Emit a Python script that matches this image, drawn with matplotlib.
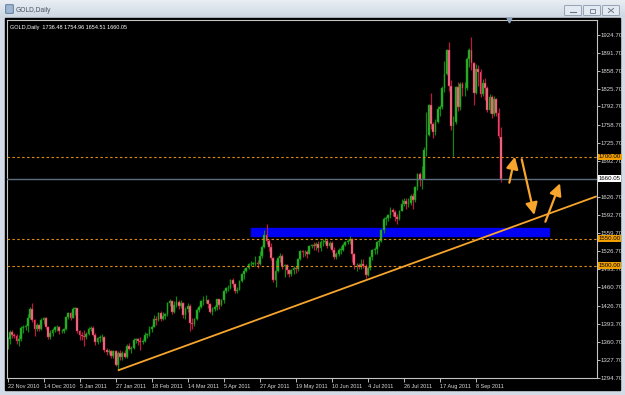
import matplotlib
matplotlib.use("Agg")
import matplotlib.pyplot as plt
from matplotlib.patches import Rectangle, FancyBboxPatch
import numpy as np

W, H = 625, 395

# daily OHLC, one bar per weekday, 22 Nov 2010 .. 23 Sep 2011
opens = [
    1352, 1366, 1378, 1374, 1372, 1362, 1366,
    1386, 1388, 1389, 1405, 1421, 1400, 1385, 1391, 1384, 1400, 1404, 1387, 1370, 1377, 1383, 1387, 1387, 1380, 1381, 1384, 1406, 1414, 1405,
    1421, 1422, 1380, 1374, 1371, 1369, 1375, 1384, 1386, 1373, 1361, 1367, 1369, 1370, 1345, 1342, 1344, 1334, 1343, 1318, 1340,
    1332, 1340, 1332, 1353, 1348, 1350, 1364, 1365, 1363, 1360, 1362, 1374, 1375, 1385, 1388, 1403, 1400, 1414, 1403, 1408,
    1411, 1432, 1436, 1416, 1428, 1434, 1426, 1432, 1410, 1420, 1427, 1396, 1393, 1403, 1419, 1425, 1435, 1437, 1437, 1430, 1416, 1421, 1424,
    1439, 1429, 1437, 1454, 1459, 1460, 1474, 1467, 1453, 1456, 1473, 1486, 1491, 1496, 1503, 1504, 1505, 1506, 1503, 1518, 1535,
    1556, 1545, 1534, 1515, 1475, 1491, 1514, 1518, 1500, 1501, 1492, 1486, 1492, 1496, 1494, 1512, 1527, 1525, 1526, 1522, 1536, 1539,
    1536, 1540, 1533, 1543, 1544, 1545, 1537, 1542, 1529, 1516, 1522, 1529, 1530, 1539, 1544, 1546, 1550, 1521, 1501, 1502, 1498, 1504,
    1500, 1484, 1496, 1516, 1529, 1531, 1543, 1546, 1565, 1587, 1588, 1593, 1602, 1599, 1589, 1586, 1601, 1614, 1620, 1614, 1615,
    1629, 1621, 1645, 1668, 1658, 1660, 1713, 1741, 1795, 1761, 1745, 1764, 1788, 1791, 1826, 1852, 1896, 1830, 1757, 1764, 1828, 1792, 1834,
    1826, 1827, 1879, 1896, 1872, 1818, 1862, 1856, 1816, 1836, 1826, 1787, 1811, 1779, 1806, 1780, 1736.48,
]
highs = [
    1370, 1383, 1382, 1377, 1375, 1373, 1389,
    1392, 1394, 1411, 1425, 1431, 1402, 1395, 1394, 1404, 1407, 1406, 1389, 1382, 1386, 1390, 1392, 1390, 1384, 1386, 1408, 1415, 1416, 1424,
    1424, 1423, 1383, 1378, 1382, 1378, 1388, 1390, 1389, 1376, 1369, 1373, 1375, 1371, 1350, 1348, 1345, 1346, 1345, 1344, 1345,
    1343, 1345, 1357, 1359, 1352, 1367, 1367, 1367, 1369, 1366, 1378, 1377, 1390, 1392, 1409, 1408, 1415, 1418, 1415, 1413,
    1434, 1440, 1438, 1435, 1444, 1437, 1438, 1434, 1424, 1431, 1430, 1404, 1405, 1423, 1428, 1437, 1444, 1447, 1439, 1432, 1425, 1428, 1440,
    1440, 1439, 1456, 1462, 1465, 1476, 1477, 1469, 1461, 1475, 1487, 1496, 1498, 1505, 1509, 1508, 1518, 1510, 1528, 1538, 1566,
    1577, 1549, 1542, 1517, 1510, 1517, 1523, 1522, 1504, 1503, 1495, 1495, 1499, 1499, 1514, 1530, 1529, 1530, 1530, 1538, 1541, 1543,
    1544, 1545, 1548, 1549, 1551, 1549, 1546, 1546, 1534, 1526, 1533, 1536, 1542, 1546, 1549, 1555, 1552, 1524, 1506, 1505, 1513, 1512,
    1503, 1499, 1518, 1531, 1534, 1545, 1550, 1568, 1590, 1592, 1595, 1609, 1606, 1602, 1595, 1603, 1623, 1625, 1624, 1624, 1632,
    1634, 1647, 1670, 1673, 1683, 1718, 1782, 1797, 1817, 1765, 1770, 1794, 1795, 1830, 1877, 1898, 1911, 1841, 1776, 1831, 1838, 1837, 1838,
    1838, 1884, 1900, 1921, 1875, 1870, 1869, 1861, 1843, 1845, 1830, 1815, 1813, 1812, 1809, 1790, 1754.96,
]
lows = [
    1347, 1356, 1368, 1368, 1356, 1352, 1363,
    1377, 1382, 1379, 1403, 1397, 1372, 1380, 1381, 1383, 1394, 1384, 1366, 1365, 1372, 1379, 1381, 1375, 1377, 1376, 1382, 1402, 1400, 1404,
    1410, 1377, 1364, 1364, 1353, 1365, 1373, 1380, 1371, 1355, 1357, 1360, 1363, 1342, 1336, 1338, 1330, 1330, 1316, 1308, 1328,
    1328, 1330, 1331, 1345, 1340, 1348, 1358, 1355, 1346, 1356, 1360, 1368, 1372, 1379, 1387, 1392, 1398, 1398, 1400, 1402,
    1408, 1426, 1411, 1414, 1424, 1420, 1423, 1405, 1403, 1415, 1381, 1385, 1390, 1400, 1415, 1423, 1428, 1432, 1423, 1413, 1410, 1418, 1419,
    1420, 1426, 1432, 1450, 1453, 1457, 1462, 1450, 1451, 1455, 1471, 1476, 1488, 1494, 1500, 1502, 1500, 1496, 1502, 1515, 1532,
    1540, 1527, 1510, 1470, 1462, 1488, 1507, 1495, 1479, 1486, 1480, 1482, 1486, 1487, 1490, 1510, 1516, 1518, 1515, 1521, 1533, 1530,
    1530, 1526, 1528, 1537, 1540, 1532, 1533, 1526, 1512, 1513, 1518, 1521, 1527, 1536, 1540, 1540, 1508, 1495, 1490, 1495, 1494, 1497,
    1478, 1482, 1493, 1510, 1521, 1522, 1537, 1544, 1561, 1576, 1582, 1588, 1592, 1582, 1577, 1585, 1600, 1610, 1604, 1609, 1611,
    1604, 1618, 1640, 1646, 1641, 1660, 1701, 1738, 1752, 1735, 1741, 1762, 1775, 1788, 1820, 1850, 1822, 1750, 1702, 1760, 1785, 1786, 1812,
    1812, 1823, 1866, 1859, 1795, 1815, 1830, 1810, 1812, 1804, 1782, 1780, 1772, 1776, 1775, 1735, 1654.51,
]
closes = [
    1366, 1378, 1374, 1372, 1362, 1366, 1386,
    1388, 1389, 1405, 1421, 1400, 1385, 1391, 1384, 1400, 1404, 1387, 1370, 1377, 1383, 1387, 1387, 1380, 1381, 1384, 1406, 1414, 1405, 1421,
    1422, 1380, 1374, 1371, 1369, 1375, 1384, 1386, 1373, 1361, 1367, 1369, 1370, 1345, 1342, 1344, 1334, 1343, 1318, 1340, 1332,
    1340, 1332, 1353, 1348, 1350, 1364, 1365, 1363, 1360, 1362, 1374, 1375, 1385, 1388, 1403, 1400, 1414, 1403, 1408, 1411,
    1432, 1436, 1416, 1428, 1434, 1426, 1432, 1410, 1420, 1427, 1396, 1393, 1403, 1419, 1425, 1435, 1437, 1438, 1430, 1416, 1421, 1424, 1439,
    1429, 1437, 1454, 1459, 1460, 1474, 1467, 1453, 1456, 1473, 1486, 1491, 1496, 1503, 1504, 1505, 1506, 1503, 1518, 1535, 1556,
    1545, 1534, 1515, 1475, 1491, 1514, 1518, 1500, 1501, 1492, 1486, 1492, 1496, 1494, 1512, 1527, 1525, 1526, 1522, 1536, 1539, 1536,
    1540, 1533, 1543, 1544, 1545, 1537, 1542, 1529, 1516, 1522, 1529, 1530, 1539, 1544, 1546, 1550, 1521, 1501, 1502, 1498, 1504, 1500,
    1484, 1496, 1516, 1529, 1531, 1543, 1546, 1565, 1587, 1588, 1593, 1602, 1599, 1589, 1586, 1601, 1614, 1620, 1614, 1615, 1629,
    1621, 1645, 1668, 1658, 1660, 1713, 1741, 1795, 1761, 1745, 1764, 1788, 1791, 1826, 1852, 1896, 1830, 1757, 1764, 1828, 1792, 1834, 1826,
    1827, 1879, 1896, 1872, 1818, 1862, 1856, 1816, 1836, 1826, 1787, 1811, 1779, 1806, 1780, 1738, 1660.05,
]

date_labels = ["22 Nov 2010", "14 Dec 2010", "5 Jan 2011", "27 Jan 2011", "18 Feb 2011",
               "14 Mar 2011", "5 Apr 2011", "27 Apr 2011", "19 May 2011", "10 Jun 2011",
               "4 Jul 2011", "26 Jul 2011", "17 Aug 2011", "8 Sep 2011"]
date_bars = [0, 16, 32, 48, 64, 80, 96, 112, 128, 144, 160, 176, 192, 208]
price_ticks = [1924.70, 1891.70, 1858.70, 1825.70, 1792.70, 1758.70, 1725.70, 1692.70,
               1626.70, 1592.70, 1559.70, 1526.70, 1493.70, 1460.70, 1426.70, 1393.70,
               1360.70, 1327.70, 1294.70]
levels = [1700.00, 1550.00, 1500.00]
last_price = 1660.05
trend_pts = [(49, 1308.0), (160, 1475.0)]      # trendline through two lows
zone_bars = [108.1, 240.4]
zone_prices = [1555.0, 1570.0]
arrow_from = [(222.8, 1652.8), (228.3, 1695.7), (238.8, 1581.1)]
arrow_to = [(225.3, 1700.5), (233.9, 1593.5), (245.3, 1651.7)]

ORANGE = "#f7a52c"

fig = plt.figure(figsize=(W / 100, H / 100), dpi=100)
fig.patch.set_facecolor("#d3dce6")

# window frame drawn in pixel coords
bg = fig.add_axes([0, 0, 1, 1])
bg.set_xlim(0, W); bg.set_ylim(H, 0); bg.axis("off")
grad = np.linspace(0, 1, 20)[:, None]
bg.imshow(grad, extent=(0, W, 18, 0), aspect="auto",
          cmap=matplotlib.colors.LinearSegmentedColormap.from_list("tb", ["#e9eef4", "#cdd7e2"]))
bg.add_patch(Rectangle((0, 18), W, H - 18, color="#d3dce6"))
bg.add_patch(Rectangle((5, 18), 615, 372, color="black"))
bg.add_patch(FancyBboxPatch((6, 5), 7, 8, boxstyle="round,pad=0.3", fc="#9fb7d0", ec="#4f6f94", lw=0.6))
bg.text(16, 10, "GOLD,Daily", fontsize=4.8, color="#4a5564", va="center", family="Liberation Sans")
for bx in (565, 584, 603):
    bg.add_patch(FancyBboxPatch((bx, 6), 16, 9, boxstyle="round,pad=0.4", fc="#e4eaf1", ec="#8797aa", lw=0.6))
bg.plot([570, 576], [11.5, 11.5], color="#6a7686", lw=0.8)
bg.add_patch(Rectangle((589.5, 8.5), 5, 4, fill=False, ec="#6a7686", lw=0.6))
bg.plot([608.5, 613.5], [8.5, 12.5], color="#6a7686", lw=0.7)
bg.plot([608.5, 613.5], [12.5, 8.5], color="#6a7686", lw=0.7)

# chart area
x0, x1, ytop, ybot = 6.7, 596.7, 19.5, 377.7
ax = fig.add_axes([x0 / W, 1 - ybot / H, (x1 - x0) / W, (ybot - ytop) / H])
ax.set_facecolor("black")
px_per_bar, px_per_usd = 2.2524, 0.5446
ax.set_xlim((x0 - 7.5) / px_per_bar, (x1 - 7.5) / px_per_bar)
ax.set_ylim(1294.7 - (ybot - 377.7) / px_per_usd, 1294.7 + (377.7 - ytop) / px_per_usd)
for s in ax.spines.values():
    s.set_color("#c4c4c4"); s.set_linewidth(0.8)

# support zone (behind candles)
ax.add_patch(Rectangle((zone_bars[0], zone_prices[0]), zone_bars[1] - zone_bars[0],
                       zone_prices[1] - zone_prices[0], color="#0000f2", zorder=1))

o, h, l, c = (np.array(v, dtype=float) for v in (opens, highs, lows, closes))
idx = np.arange(len(c))
up = c >= o
for mask, wick, body in ((up, "#11880f", "#2fb82f"), (~up, "#c01840", "#f4808f")):
    ax.vlines(idx[mask], l[mask], h[mask], color=wick, lw=0.85, zorder=2)
    bot = np.minimum(o, c)[mask]
    hgt = np.maximum(np.abs(c - o)[mask], 1.2)
    ax.bar(idx[mask], hgt, bottom=bot, width=0.8, color=body, edgecolor=wick,
           linewidth=0.35, zorder=2.1)

# horizontal levels
for lv in levels:
    ax.axhline(lv, color="#e08a14", lw=0.8, ls=(0, (2.2, 2.2)), zorder=3)
ax.axhline(last_price, color="#5e6e7e", lw=1.0, zorder=3)

# trend line as a ray to the right edge
(tx0, ty0), (tx1, ty1) = trend_pts
slope = (ty1 - ty0) / (tx1 - tx0)
xr = ax.get_xlim()[1]
ax.plot([tx0, xr], [ty0, ty0 + slope * (xr - tx0)], color=ORANGE, lw=1.3, zorder=3.5,
        solid_capstyle="butt")

for a, b in zip(arrow_from, arrow_to):
    ax.annotate("", xy=b, xytext=a, zorder=4,
                arrowprops=dict(arrowstyle="-|>,head_length=0.9,head_width=0.45",
                                color=ORANGE, lw=1.6, mutation_scale=8, shrinkA=0, shrinkB=0))

# axes ticks/labels
ax.yaxis.tick_right()
ax.set_yticks(price_ticks)
ax.set_yticklabels([f"{p:.2f}" for p in price_ticks])
ax.tick_params(axis="y", length=2, width=0.6, pad=1, colors="#d8d8d8", labelsize=4.4)
ax.set_xticks(date_bars)
ax.set_xticklabels(date_labels, ha="left")
ax.tick_params(axis="x", length=3, width=0.6, pad=1.5, colors="#d8d8d8", labelsize=4.0)
for t in ax.get_xticklabels() + ax.get_yticklabels():
    t.set_family("Liberation Sans")

ytr = ax.get_yaxis_transform()
for lv in levels:
    ax.text(1.003, lv, f"{lv:.2f}", transform=ytr, fontsize=4.4, va="center", ha="left",
            family="Liberation Sans", color="black", clip_on=False, zorder=6,
            bbox=dict(boxstyle="square,pad=0.15", fc="#f2a000", ec="none"))
ax.text(1.003, last_price, f"{last_price:.2f}", transform=ytr, fontsize=4.4, va="center",
        ha="left", family="Liberation Sans", color="black", clip_on=False, zorder=6,
        bbox=dict(boxstyle="square,pad=0.15", fc="white", ec="none"))

ax.text(0.006, 0.985, "GOLD,Daily  1736.48 1754.96 1654.51 1660.05", transform=ax.transAxes,
        fontsize=4.0, color="white", va="top", ha="left", family="Liberation Sans")
# chart-shift marker
ax.plot([222.6], [1.0], transform=ax.get_xaxis_transform(), marker="v", ms=3.5,
        color="#8da3bb", clip_on=False, zorder=6)

fig.savefig("out.png", dpi=100, facecolor=fig.get_facecolor())
